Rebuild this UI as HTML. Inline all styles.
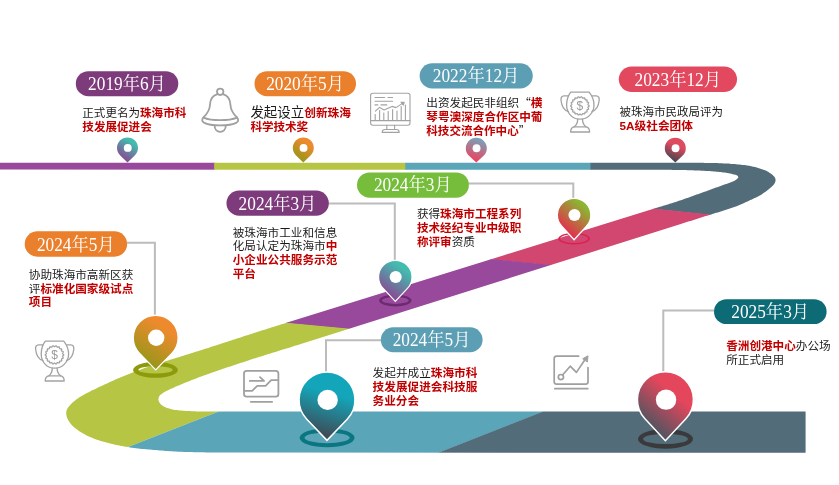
<!DOCTYPE html>
<html lang="zh-CN"><head><meta charset="utf-8"><title>发展历程</title>
<style>
html,body{margin:0;padding:0;background:#fff;}
body{width:839px;height:485px;overflow:hidden;}
svg{display:block;will-change:transform;}
.pl{font-family:"Liberation Serif","Noto Serif CJK SC",serif;font-size:18.3px;fill:#fff;}
.tx{font-family:"Liberation Sans","Noto Sans CJK SC",sans-serif;font-size:11.6px;fill:#1a1a1a;}
.rb{font-weight:bold;fill:#c00000;}
.cj{font-family:"Noto Sans CJK SC",sans-serif;}
.dl{font-family:"Liberation Sans",sans-serif;font-size:12px;fill:#9a9a9a;text-anchor:middle;}
</style></head><body>
<svg width="839" height="485" viewBox="0 0 839 485">
<defs><linearGradient id="gTealPurple" x1="0.8" y1="0.08" x2="0.32" y2="0.95"><stop offset="0.15" stop-color="#43bbae"/><stop offset="0.95" stop-color="#8a4793"/></linearGradient><linearGradient id="gOrangeOlive" x1="0.8" y1="0.08" x2="0.32" y2="0.95"><stop offset="0.18" stop-color="#ee8a2d"/><stop offset="0.95" stop-color="#98961a"/></linearGradient><linearGradient id="gBlueRed" x1="0.66" y1="0.02" x2="0.4" y2="0.95"><stop offset="0.05" stop-color="#7ba0b9"/><stop offset="0.95" stop-color="#eb4560"/></linearGradient><linearGradient id="gRedDark" x1="0.72" y1="0.05" x2="0.4" y2="0.98"><stop offset="0.3" stop-color="#de4a60"/><stop offset="0.95" stop-color="#46464f"/></linearGradient><linearGradient id="gGreenRed" x1="0.85" y1="0.1" x2="0.3" y2="0.9"><stop offset="0.12" stop-color="#8db432"/><stop offset="0.95" stop-color="#e32f4c"/></linearGradient><linearGradient id="gTealDark" x1="0.64" y1="0.05" x2="0.42" y2="0.97"><stop offset="0.28" stop-color="#13a6ba"/><stop offset="0.95" stop-color="#3d4c57"/></linearGradient><linearGradient id="gRedDark2" x1="0.88" y1="0.1" x2="0.3" y2="0.95"><stop offset="0.3" stop-color="#e4465c"/><stop offset="0.95" stop-color="#4a5560"/></linearGradient><clipPath id="roadclip"><path d="M-5.0,162.8 L700.0,162.8 L701.6,162.8 L703.2,162.8 L704.8,162.9 L706.3,162.9 L707.9,162.9 L709.5,162.9 L711.1,162.9 L712.7,163.0 L714.2,163.0 L715.8,163.1 L717.4,163.1 L719.0,163.2 L720.6,163.2 L722.2,163.3 L723.7,163.4 L725.3,163.5 L726.9,163.5 L728.5,163.6 L730.1,163.8 L731.6,163.9 L733.2,164.0 L734.8,164.1 L736.4,164.3 L738.0,164.4 L739.5,164.6 L741.1,164.7 L742.7,164.9 L744.3,165.1 L745.8,165.3 L747.4,165.6 L749.0,165.8 L750.5,166.1 L752.1,166.4 L753.6,166.8 L755.1,167.1 L756.7,167.5 L758.2,168.0 L759.7,168.4 L761.2,168.9 L762.7,169.4 L764.2,170.0 L765.7,170.6 L767.1,171.3 L768.5,172.1 L769.8,172.9 L771.1,173.8 L772.4,174.8 L773.6,175.9 L774.6,177.1 L775.3,178.5 L775.6,180.1 L775.4,181.6 L774.8,183.1 L773.9,184.4 L772.9,185.6 L771.7,186.8 L770.5,187.8 L769.3,188.8 L768.1,189.8 L766.8,190.8 L765.6,191.7 L764.3,192.6 L762.9,193.5 L761.6,194.4 L760.3,195.2 L758.9,196.0 L757.5,196.7 L756.1,197.4 L754.6,198.1 L753.2,198.8 L751.8,199.5 L750.3,200.1 L748.9,200.8 L747.5,201.5 L746.0,202.1 L744.6,202.8 L743.1,203.4 L741.7,204.1 L740.2,204.7 L738.8,205.3 L737.3,205.9 L735.8,206.5 L734.3,207.0 L732.8,207.5 L731.3,208.0 L729.8,208.5 L728.3,209.0 L726.8,209.5 L725.3,210.0 L723.8,210.5 L722.3,210.9 L720.8,211.4 L719.3,211.9 L717.8,212.4 L716.3,212.8 L714.7,213.3 L713.2,213.8 L711.7,214.3 L710.2,214.7 L708.7,215.2 L707.2,215.7 L705.7,216.1 L704.2,216.6 L702.7,217.1 L701.1,217.5 L699.6,218.0 L698.1,218.5 L696.6,219.0 L695.1,219.4 L693.6,219.9 L692.1,220.4 L690.6,220.9 L689.1,221.3 L687.5,221.8 L686.0,222.3 L684.5,222.8 L683.0,223.2 L681.5,223.7 L680.0,224.2 L300.0,344.3 L298.6,344.7 L297.1,345.2 L295.7,345.6 L294.2,346.1 L292.8,346.5 L291.4,347.0 L289.9,347.4 L288.5,347.9 L287.0,348.3 L285.6,348.7 L284.1,349.2 L282.7,349.6 L281.3,350.1 L279.8,350.5 L278.4,351.0 L276.9,351.4 L275.5,351.9 L274.1,352.3 L272.6,352.8 L271.2,353.2 L269.7,353.7 L268.3,354.1 L266.9,354.6 L265.4,355.0 L264.0,355.5 L262.5,355.9 L261.1,356.4 L259.7,356.8 L258.2,357.3 L256.8,357.7 L255.4,358.2 L253.9,358.6 L252.5,359.1 L251.0,359.6 L249.6,360.0 L248.2,360.5 L246.7,361.0 L245.3,361.4 L243.9,361.9 L242.4,362.4 L241.0,362.8 L239.6,363.3 L238.1,363.8 L236.7,364.3 L235.3,364.7 L233.8,365.2 L232.4,365.7 L231.0,366.2 L229.6,366.7 L228.1,367.1 L226.7,367.6 L225.3,368.1 L223.8,368.6 L222.4,369.1 L221.0,369.6 L219.6,370.1 L218.1,370.6 L216.7,371.0 L215.3,371.5 L213.9,372.0 L212.4,372.5 L211.0,373.0 L209.6,373.5 L208.2,374.0 L206.7,374.5 L205.3,375.0 L203.9,375.6 L202.5,376.1 L201.1,376.6 L199.7,377.1 L198.2,377.6 L196.8,378.2 L195.4,378.7 L194.0,379.2 L192.6,379.8 L191.2,380.3 L189.8,380.9 L188.4,381.4 L187.0,382.0 L185.6,382.6 L184.2,383.1 L182.8,383.7 L181.4,384.3 L180.0,384.9 L178.6,385.4 L177.2,386.0 L175.9,386.6 L174.5,387.2 L173.1,387.9 L171.7,388.5 L170.4,389.1 L169.0,389.8 L167.6,390.4 L166.3,391.1 L165.0,391.8 L163.6,392.5 L162.4,393.4 L161.1,394.3 L160.0,395.3 L159.1,396.5 L158.6,397.9 L158.4,399.4 L158.7,400.9 L159.3,402.3 L160.2,403.6 L161.2,404.7 L162.4,405.6 L163.7,406.4 L165.0,407.1 L166.4,407.7 L167.9,408.2 L169.3,408.6 L170.8,409.0 L172.2,409.4 L173.7,409.7 L175.2,409.9 L176.7,410.1 L178.2,410.3 L179.7,410.5 L181.2,410.6 L182.7,410.7 L184.2,410.8 L185.7,410.9 L187.2,411.0 L188.7,411.1 L190.2,411.1 L191.7,411.2 L193.2,411.3 L194.8,411.3 L196.3,411.4 L197.8,411.4 L199.3,411.4 L200.8,411.5 L202.3,411.5 L203.8,411.5 L205.3,411.5 L206.8,411.6 L208.3,411.6 L209.8,411.6 L211.3,411.6 L212.8,411.6 L214.4,411.6 L215.9,411.6 L217.4,411.6 L218.9,411.6 L220.4,411.6 L221.9,411.6 L223.4,411.6 L224.9,411.6 L226.4,411.6 L227.9,411.6 L229.4,411.6 L231.0,411.6 L232.5,411.6 L234.0,411.6 L235.5,411.6 L237.0,411.6 L238.5,411.6 L240.0,411.6 L805.6,411.6 L805.6,452.7 L250.0,452.6 L248.0,452.6 L246.0,452.6 L244.0,452.6 L242.0,452.6 L240.0,452.6 L238.0,452.6 L236.0,452.6 L234.0,452.6 L232.0,452.6 L230.0,452.5 L228.0,452.5 L226.0,452.5 L224.0,452.5 L222.0,452.5 L220.0,452.5 L218.0,452.5 L216.0,452.5 L213.9,452.5 L211.9,452.4 L209.9,452.4 L207.9,452.4 L205.9,452.4 L203.9,452.3 L201.9,452.3 L199.9,452.3 L197.9,452.3 L195.9,452.2 L193.9,452.2 L191.9,452.1 L189.9,452.1 L187.9,452.0 L185.9,452.0 L183.9,451.9 L181.9,451.8 L179.9,451.7 L177.9,451.7 L175.9,451.6 L173.9,451.4 L171.9,451.3 L169.9,451.2 L167.9,451.0 L165.9,450.9 L163.9,450.7 L161.9,450.6 L159.9,450.4 L157.9,450.3 L155.9,450.1 L153.9,450.0 L151.9,449.8 L149.9,449.6 L147.9,449.5 L146.0,449.3 L144.0,449.1 L142.0,448.9 L140.0,448.7 L138.0,448.4 L136.0,448.2 L134.0,447.9 L132.0,447.7 L130.0,447.4 L128.1,447.1 L126.1,446.8 L124.1,446.4 L122.1,446.1 L120.2,445.7 L118.2,445.3 L116.2,444.9 L114.3,444.5 L112.3,444.0 L110.4,443.6 L108.4,443.1 L106.5,442.6 L104.6,442.0 L102.7,441.5 L100.7,440.9 L98.8,440.3 L96.9,439.7 L95.0,439.0 L93.1,438.3 L91.3,437.6 L89.4,436.8 L87.6,436.0 L85.8,435.1 L84.1,434.1 L82.3,433.1 L80.6,432.1 L78.9,431.0 L77.3,429.8 L75.7,428.6 L74.1,427.3 L72.7,425.9 L71.3,424.5 L70.1,422.9 L68.9,421.3 L67.9,419.5 L67.1,417.7 L66.5,415.8 L66.2,413.8 L66.3,411.8 L66.8,409.8 L67.7,408.0 L68.9,406.4 L70.2,404.9 L71.6,403.5 L73.1,402.1 L74.6,400.9 L76.2,399.6 L77.8,398.5 L79.5,397.3 L81.2,396.3 L82.9,395.2 L84.7,394.3 L86.4,393.3 L88.2,392.4 L90.0,391.5 L91.8,390.6 L93.6,389.7 L95.4,388.9 L97.2,388.0 L99.0,387.1 L100.8,386.3 L102.7,385.4 L104.5,384.6 L106.3,383.8 L108.1,382.9 L109.9,382.1 L111.7,381.3 L113.6,380.4 L115.4,379.6 L117.2,378.8 L119.1,378.0 L120.9,377.2 L122.8,376.5 L124.6,375.7 L126.5,374.9 L128.3,374.2 L130.2,373.4 L132.1,372.7 L133.9,372.0 L135.8,371.3 L137.7,370.6 L139.5,369.9 L141.4,369.2 L143.3,368.5 L145.2,367.8 L147.1,367.2 L149.0,366.5 L150.9,365.9 L152.8,365.3 L154.7,364.6 L156.6,364.0 L158.5,363.4 L160.4,362.8 L162.3,362.2 L164.2,361.6 L166.2,361.0 L168.1,360.4 L170.0,359.8 L171.9,359.3 L173.8,358.7 L175.7,358.1 L177.6,357.5 L179.5,356.9 L181.5,356.3 L183.4,355.7 L185.3,355.1 L187.2,354.5 L189.1,353.9 L191.0,353.3 L192.9,352.7 L194.8,352.1 L196.8,351.5 L198.7,350.9 L200.6,350.3 L202.5,349.7 L204.4,349.1 L206.3,348.5 L208.2,347.9 L210.1,347.3 L212.0,346.6 L213.9,346.0 L215.8,345.4 L217.7,344.8 L219.6,344.2 L221.5,343.6 L223.4,342.9 L225.4,342.3 L227.3,341.7 L229.2,341.1 L231.1,340.5 L233.0,339.8 L234.9,339.2 L236.8,338.6 L238.7,338.0 L240.6,337.4 L242.5,336.7 L244.4,336.1 L246.3,335.5 L248.2,334.9 L250.1,334.3 L252.0,333.7 L253.9,333.1 L255.8,332.4 L257.8,331.8 L259.7,331.2 L261.6,330.6 L263.5,330.0 L265.4,329.4 L267.3,328.8 L269.2,328.2 L271.1,327.6 L273.0,327.0 L274.9,326.4 L276.8,325.8 L278.8,325.2 L280.7,324.6 L282.6,324.0 L284.5,323.4 L286.4,322.8 L660.0,206.8 L661.3,206.4 L662.6,206.0 L664.0,205.6 L665.3,205.2 L666.6,204.8 L667.9,204.4 L669.2,204.0 L670.5,203.6 L671.8,203.2 L673.2,202.7 L674.5,202.3 L675.8,201.9 L677.1,201.5 L678.4,201.0 L679.7,200.6 L681.0,200.2 L682.3,199.7 L683.6,199.3 L684.9,198.8 L686.2,198.3 L687.5,197.9 L688.8,197.4 L690.1,197.0 L691.4,196.5 L692.7,196.0 L694.0,195.5 L695.3,195.1 L696.6,194.6 L697.9,194.2 L699.2,193.7 L700.5,193.2 L701.8,192.8 L703.1,192.3 L704.4,191.8 L705.7,191.4 L706.9,190.9 L708.2,190.4 L709.5,190.0 L710.8,189.5 L712.1,189.0 L713.4,188.6 L714.7,188.1 L716.0,187.6 L717.3,187.2 L718.6,186.7 L719.9,186.2 L721.2,185.7 L722.5,185.3 L723.8,184.8 L725.1,184.3 L726.4,183.9 L727.7,183.4 L729.0,182.9 L730.3,182.4 L731.6,182.0 L732.8,181.4 L734.1,180.9 L735.3,180.3 L736.4,179.6 L737.5,178.6 L738.3,177.4 L737.9,176.1 L736.7,175.3 L735.4,174.8 L734.1,174.5 L732.7,174.2 L731.4,173.8 L730.1,173.5 L728.7,173.2 L727.4,173.0 L726.0,172.7 L724.6,172.5 L723.3,172.4 L721.9,172.2 L720.5,172.1 L719.2,171.9 L717.8,171.8 L716.4,171.7 L715.0,171.6 L713.7,171.4 L712.3,171.3 L710.9,171.2 L709.5,171.1 L708.2,171.1 L706.8,171.0 L705.4,170.9 L704.1,170.8 L702.7,170.7 L701.3,170.7 L699.9,170.6 L698.5,170.5 L697.2,170.5 L695.8,170.4 L694.4,170.4 L693.0,170.3 L691.7,170.3 L690.3,170.2 L688.9,170.2 L687.5,170.2 L686.2,170.1 L684.8,170.1 L683.4,170.1 L682.0,170.0 L680.7,170.0 L679.3,170.0 L677.9,170.0 L676.5,169.9 L675.1,169.9 L673.8,169.9 L672.4,169.9 L671.0,169.8 L669.6,169.8 L668.3,169.8 L666.9,169.8 L665.5,169.8 L664.1,169.8 L662.8,169.7 L661.4,169.7 L660.0,169.7 L-5.0,169.6Z"/></clipPath></defs>
<g clip-path="url(#roadclip)"><polygon points="-5.0,150.0 215.0,150.0 215.0,180.0 -5.0,180.0" fill="#98499b"/><polygon points="214.1,150.0 406.0,150.0 406.0,180.0 214.1,180.0" fill="#b7c544"/><polygon points="405.3,150.0 591.0,150.0 591.0,180.0 405.3,180.0" fill="#5ba5b9"/><polygon points="590.5,150.0 850.0,150.0 850.0,230.0 590.5,202.2" fill="#536c79"/><polygon points="590.5,201.7 850.0,229.5 850.0,293.5 440.0,254.7" fill="#d1476f"/><polygon points="440.0,254.2 850.0,293.0 850.0,376.3 230.0,318.0" fill="#98499b"/><polygon points="230.0,317.5 850.0,375.8 850.0,400.0 248.0,400.0 69.3,470.0 0.0,470.0 0.0,300.0" fill="#b7c544"/><polygon points="248.0,400.0 573.0,400.0 394.8,470.0 69.3,470.0" fill="#5ba5b9"/><polygon points="572.5,400.0 850.0,400.0 850.0,470.0 394.3,470.0" fill="#536c79"/></g>
<polyline points="468.0,183.6 573.3,183.6 573.3,200.0" fill="none" stroke="#bcbcbc" stroke-width="2"/>
<polyline points="328.0,203.6 394.8,203.6 394.8,263.0" fill="none" stroke="#bcbcbc" stroke-width="2"/>
<polyline points="127.0,242.8 154.9,242.8 154.9,318.0" fill="none" stroke="#bcbcbc" stroke-width="2"/>
<polyline points="381.0,340.2 326.0,340.2 326.0,374.0" fill="none" stroke="#bcbcbc" stroke-width="2"/>
<polyline points="714.0,310.4 663.3,310.4 663.3,374.0" fill="none" stroke="#bcbcbc" stroke-width="2"/>
<path d="M558.30,238.60 a15.80,5.90 0 1 0 31.60,0 a15.80,5.90 0 1 0 -31.60,0Z M560.10,238.60 a14.00,4.40 0 1 0 28.00,0 a14.00,4.40 0 1 0 -28.00,0Z" fill="#dc1f4e" fill-rule="evenodd"/>
<path d="M379.10,300.40 a16.20,6.00 0 1 0 32.40,0 a16.20,6.00 0 1 0 -32.40,0Z M382.00,300.40 a13.30,3.50 0 1 0 26.60,0 a13.30,3.50 0 1 0 -26.60,0Z" fill="#6c2a70" fill-rule="evenodd"/>
<path d="M133.10,369.90 a22.40,7.90 0 1 0 44.80,0 a22.40,7.90 0 1 0 -44.80,0Z M138.40,369.90 a17.10,3.60 0 1 0 34.20,0 a17.10,3.60 0 1 0 -34.20,0Z" fill="#8c9a0c" fill-rule="evenodd"/>
<path d="M299.60,437.80 a27.50,9.50 0 1 0 55.00,0 a27.50,9.50 0 1 0 -55.00,0Z M304.50,437.80 a22.60,5.40 0 1 0 45.20,0 a22.60,5.40 0 1 0 -45.20,0Z" fill="#0b7580" fill-rule="evenodd"/>
<path d="M638.00,438.90 a27.50,9.80 0 1 0 55.00,0 a27.50,9.80 0 1 0 -55.00,0Z M643.10,438.90 a22.40,5.20 0 1 0 44.80,0 a22.40,5.20 0 1 0 -44.80,0Z" fill="#3a3a3c" fill-rule="evenodd"/>
<path d="M127.50,162.40 L120.26,155.50 A10.50,10.50 0 1 1 134.74,155.50 Z" fill="url(#gTealPurple)"/><circle cx="127.75" cy="147.90" r="3.94" fill="#fff"/>
<path d="M303.30,162.40 L296.06,155.50 A10.50,10.50 0 1 1 310.54,155.50 Z" fill="url(#gOrangeOlive)"/><circle cx="303.55" cy="147.90" r="3.94" fill="#fff"/>
<path d="M476.30,162.40 L469.29,156.12 A10.50,10.50 0 1 1 483.31,156.12 Z" fill="url(#gBlueRed)"/><circle cx="476.55" cy="148.30" r="3.94" fill="#fff"/>
<path d="M675.30,162.60 L668.11,155.86 A10.50,10.50 0 1 1 682.49,155.86 Z" fill="url(#gRedDark)"/><circle cx="675.55" cy="148.20" r="3.94" fill="#fff"/>
<path d="M574.10,239.75 L561.78,226.27 A16.70,16.70 0 1 1 586.42,226.27 Z" fill="url(#gGreenRed)" stroke="#fff" stroke-width="1.2" stroke-linejoin="miter"/><circle cx="574.49" cy="215.00" r="6.04" fill="#fff"/>
<path d="M395.30,301.35 L383.15,288.45 A16.70,16.70 0 1 1 407.45,288.45 Z" fill="url(#gTealPurple)" stroke="#fff" stroke-width="1.2" stroke-linejoin="miter"/><circle cx="395.69" cy="277.00" r="6.04" fill="#fff"/>
<path d="M155.70,369.92 L139.60,353.34 A22.45,22.45 0 1 1 171.80,353.34 Z" fill="url(#gOrangeOlive)" stroke="#fff" stroke-width="1.3" stroke-linejoin="miter"/><circle cx="156.22" cy="337.70" r="8.18" fill="#fff"/>
<path d="M327.00,440.36 L306.79,419.21 A27.95,27.95 0 1 1 347.21,419.21 Z" fill="url(#gTealDark)" stroke="#fff" stroke-width="1.5" stroke-linejoin="miter"/><circle cx="327.65" cy="399.90" r="10.20" fill="#fff"/>
<path d="M665.40,440.66 L644.94,418.77 A28.00,28.00 0 1 1 685.86,418.77 Z" fill="url(#gRedDark2)" stroke="#fff" stroke-width="1.5" stroke-linejoin="miter"/><circle cx="666.05" cy="399.65" r="10.22" fill="#fff"/>
<rect x="75.8" y="71.2" width="102.5" height="25.0" rx="12.5" fill="#7d3b7c"/><text class="pl" x="88.1" y="90.2" textLength="77.8" lengthAdjust="spacingAndGlyphs">2019年6月</text>
<rect x="254.5" y="71.2" width="101.5" height="25.0" rx="12.5" fill="#ea7f2c"/><text class="pl" x="266.2" y="90.2" textLength="77.8" lengthAdjust="spacingAndGlyphs">2020年5月</text>
<rect x="419.6" y="63.3" width="113.2" height="25.1" rx="12.6" fill="#5c9fb4"/><text class="pl" x="432.8" y="82.4" textLength="86.6" lengthAdjust="spacingAndGlyphs">2022年12月</text>
<rect x="618.8" y="66.5" width="118.2" height="25.5" rx="12.8" fill="#e2495f"/><text class="pl" x="634.5" y="85.9" textLength="86.6" lengthAdjust="spacingAndGlyphs">2023年12月</text>
<rect x="357.0" y="172.4" width="111.9" height="25.3" rx="12.6" fill="#76bd3c"/><text class="pl" x="373.9" y="190.8" textLength="77.8" lengthAdjust="spacingAndGlyphs">2024年3月</text>
<rect x="226.5" y="190.6" width="102.3" height="25.2" rx="12.6" fill="#7d3b7c"/><text class="pl" x="238.6" y="209.6" textLength="77.8" lengthAdjust="spacingAndGlyphs">2024年3月</text>
<rect x="24.7" y="231.3" width="102.4" height="25.4" rx="12.7" fill="#ea7f2c"/><text class="pl" x="36.9" y="250.7" textLength="77.8" lengthAdjust="spacingAndGlyphs">2024年5月</text>
<rect x="380.8" y="327.3" width="101.8" height="24.9" rx="12.4" fill="#5c9fb4"/><text class="pl" x="392.7" y="346.3" textLength="77.8" lengthAdjust="spacingAndGlyphs">2024年5月</text>
<rect x="714.0" y="299.2" width="112.6" height="24.9" rx="12.5" fill="#0d6b76"/><text class="pl" x="731.3" y="317.9" textLength="77.8" lengthAdjust="spacingAndGlyphs">2025年3月</text>
<text class="tx" x="82.3" y="116.6" textLength="104.0" lengthAdjust="spacingAndGlyphs">正式更名为<tspan class="rb">珠海市科</tspan></text><text class="tx" x="82.3" y="130.6" textLength="69.5" lengthAdjust="spacingAndGlyphs"><tspan class="rb">技发展促进会</tspan></text>
<text class="tx" x="250.4" y="116.8" textLength="100.5" lengthAdjust="spacingAndGlyphs"><tspan style="font-size:13.4px">发起设立</tspan><tspan class="rb">创新珠海</tspan></text><text class="tx" x="250.4" y="131.2" textLength="57.8" lengthAdjust="spacingAndGlyphs"><tspan class="rb">科学技术奖</tspan></text>
<text class="tx" x="426.3" y="107.4" textLength="116.2" lengthAdjust="spacingAndGlyphs">出资发起民非组织<tspan class="cj">“</tspan><tspan class="rb">横</tspan></text><text class="tx" x="426.3" y="121.4" textLength="116.2" lengthAdjust="spacingAndGlyphs"><tspan class="rb">琴粤澳深度合作区中葡</tspan></text><text class="tx" x="426.3" y="134.9" textLength="104.0" lengthAdjust="spacingAndGlyphs"><tspan class="rb">科技交流合作中心</tspan><tspan class="cj">”</tspan></text>
<text class="tx" x="619.5" y="116.2" textLength="103.5" lengthAdjust="spacingAndGlyphs">被珠海市民政局评为</text><text class="tx" x="619.5" y="130.4" textLength="73.5" lengthAdjust="spacingAndGlyphs"><tspan class="rb">5A级社会团体</tspan></text>
<text class="tx" x="416.9" y="218.2" textLength="104.4" lengthAdjust="spacingAndGlyphs">获得<tspan class="rb">珠海市工程系列</tspan></text><text class="tx" x="416.9" y="232.3" textLength="104.4" lengthAdjust="spacingAndGlyphs"><tspan class="rb">技术经纪专业中级职</tspan></text><text class="tx" x="416.9" y="246.4" textLength="58.0" lengthAdjust="spacingAndGlyphs"><tspan class="rb">称评审</tspan>资质</text>
<text class="tx" x="232.7" y="236.9" textLength="104.6" lengthAdjust="spacingAndGlyphs">被珠海市工业和信息</text><text class="tx" x="232.7" y="250.2" textLength="104.6" lengthAdjust="spacingAndGlyphs">化局认定为珠海市<tspan class="rb">中</tspan></text><text class="tx" x="232.7" y="263.9" textLength="104.6" lengthAdjust="spacingAndGlyphs"><tspan class="rb">小企业公共服务示范</tspan></text><text class="tx" x="232.7" y="277.5" textLength="23.2" lengthAdjust="spacingAndGlyphs"><tspan class="rb">平台</tspan></text>
<text class="tx" x="28.8" y="278.9" textLength="104.5" lengthAdjust="spacingAndGlyphs">协助珠海市高新区获</text><text class="tx" x="28.8" y="292.6" textLength="104.5" lengthAdjust="spacingAndGlyphs">评<tspan class="rb">标准化国家级试点</tspan></text><text class="tx" x="28.8" y="306.2" textLength="23.2" lengthAdjust="spacingAndGlyphs"><tspan class="rb">项目</tspan></text>
<text class="tx" x="372.6" y="377.0" textLength="104.8" lengthAdjust="spacingAndGlyphs">发起并成立<tspan class="rb">珠海市科</tspan></text><text class="tx" x="372.6" y="391.2" textLength="104.8" lengthAdjust="spacingAndGlyphs"><tspan class="rb">技发展促进会科技服</tspan></text><text class="tx" x="372.6" y="405.2" textLength="46.5" lengthAdjust="spacingAndGlyphs"><tspan class="rb">务业分会</tspan></text>
<text class="tx" x="726.2" y="350.0" textLength="104.5" lengthAdjust="spacingAndGlyphs"><tspan class="rb">香洲创港中心</tspan>办公场</text><text class="tx" x="726.2" y="363.6" textLength="58.0" lengthAdjust="spacingAndGlyphs">所正式启用</text>
<g transform="translate(35.0,340.6)" fill="none" stroke="#a2a2a2" stroke-width="1.3" stroke-linecap="round" stroke-linejoin="round"><path d="M10.3,0.6 H28.8 C31.8,4.5 33.6,8.5 33.6,13.4 C33.6,21.4 27.2,27.6 19.6,27.6 C12,27.6 6.2,21.4 6.2,13.4 C6.2,8.5 7.4,4.5 10.3,0.6Z"/><path d="M7.6,4.2 H3.6 C1.2,4.2 0.4,6.2 0.6,8.6 C1.2,14 3.2,18.6 7.8,19.8"/><path d="M31.8,4.2 H35.8 C38.2,4.2 39,6.2 38.8,8.6 C38.2,14 36.2,18.6 31.6,19.8"/><path d="M17.3,27.3 C17.3,31 16,33.6 13.8,35.2 M22.1,27.3 C22.1,31 23.4,33.6 25.6,35.2"/><path d="M10.2,40.4 C10.2,37 12,35.2 14.6,35.2 H24.8 C27.4,35.2 29.2,37 29.2,40.4 Z"/><path d="M28.75,14.30 L28.61,14.66 L28.26,14.99 L27.85,15.29 L27.58,15.58 L27.53,15.90 L27.72,16.27 L28.00,16.70 L28.20,17.13 L28.18,17.50 L27.90,17.78 L27.44,17.96 L26.96,18.10 L26.62,18.29 L26.50,18.59 L26.56,19.02 L26.68,19.51 L26.70,19.98 L26.53,20.30 L26.15,20.45 L25.65,20.45 L25.16,20.43 L24.80,20.50 L24.60,20.76 L24.51,21.20 L24.45,21.71 L24.30,22.14 L24.01,22.36 L23.60,22.34 L23.12,22.16 L22.68,21.98 L22.32,21.95 L22.05,22.15 L21.83,22.55 L21.59,23.00 L21.30,23.33 L20.94,23.41 L20.56,23.23 L20.18,22.89 L19.83,22.58 L19.50,22.45 L19.17,22.58 L18.82,22.89 L18.44,23.23 L18.06,23.41 L17.70,23.33 L17.41,23.00 L17.17,22.55 L16.95,22.15 L16.68,21.95 L16.32,21.98 L15.88,22.16 L15.40,22.34 L14.99,22.36 L14.70,22.14 L14.55,21.71 L14.49,21.20 L14.40,20.76 L14.20,20.50 L13.84,20.43 L13.35,20.45 L12.85,20.45 L12.47,20.30 L12.30,19.98 L12.32,19.51 L12.44,19.02 L12.50,18.59 L12.38,18.29 L12.04,18.10 L11.56,17.96 L11.10,17.78 L10.82,17.50 L10.80,17.13 L11.00,16.70 L11.28,16.27 L11.47,15.90 L11.42,15.58 L11.15,15.29 L10.74,14.99 L10.39,14.66 L10.25,14.30 L10.39,13.94 L10.74,13.61 L11.15,13.31 L11.42,13.02 L11.47,12.70 L11.28,12.33 L11.00,11.90 L10.80,11.47 L10.82,11.10 L11.10,10.82 L11.56,10.64 L12.04,10.50 L12.38,10.31 L12.50,10.01 L12.44,9.58 L12.32,9.09 L12.30,8.62 L12.47,8.30 L12.85,8.15 L13.35,8.15 L13.84,8.17 L14.20,8.10 L14.40,7.84 L14.49,7.40 L14.55,6.89 L14.70,6.46 L14.99,6.24 L15.40,6.26 L15.88,6.44 L16.32,6.62 L16.68,6.65 L16.95,6.45 L17.17,6.05 L17.41,5.60 L17.70,5.27 L18.06,5.19 L18.44,5.37 L18.82,5.71 L19.17,6.02 L19.50,6.15 L19.83,6.02 L20.18,5.71 L20.56,5.37 L20.94,5.19 L21.30,5.27 L21.59,5.60 L21.83,6.05 L22.05,6.45 L22.32,6.65 L22.68,6.62 L23.12,6.44 L23.60,6.26 L24.01,6.24 L24.30,6.46 L24.45,6.89 L24.51,7.40 L24.60,7.84 L24.80,8.10 L25.16,8.17 L25.65,8.15 L26.15,8.15 L26.53,8.30 L26.70,8.62 L26.68,9.09 L26.56,9.58 L26.50,10.01 L26.62,10.31 L26.96,10.50 L27.44,10.64 L27.90,10.82 L28.18,11.10 L28.20,11.47 L28.00,11.90 L27.72,12.33 L27.53,12.70 L27.58,13.02 L27.85,13.31 L28.26,13.61 L28.61,13.94Z" stroke-width="1.25"/></g><text x="54.5" y="359.1" class="dl">$</text>
<g transform="translate(560.4,91.6)" fill="none" stroke="#a2a2a2" stroke-width="1.3" stroke-linecap="round" stroke-linejoin="round"><path d="M10.3,0.6 H28.8 C31.8,4.5 33.6,8.5 33.6,13.4 C33.6,21.4 27.2,27.6 19.6,27.6 C12,27.6 6.2,21.4 6.2,13.4 C6.2,8.5 7.4,4.5 10.3,0.6Z"/><path d="M7.6,4.2 H3.6 C1.2,4.2 0.4,6.2 0.6,8.6 C1.2,14 3.2,18.6 7.8,19.8"/><path d="M31.8,4.2 H35.8 C38.2,4.2 39,6.2 38.8,8.6 C38.2,14 36.2,18.6 31.6,19.8"/><path d="M17.3,27.3 C17.3,31 16,33.6 13.8,35.2 M22.1,27.3 C22.1,31 23.4,33.6 25.6,35.2"/><path d="M10.2,40.4 C10.2,37 12,35.2 14.6,35.2 H24.8 C27.4,35.2 29.2,37 29.2,40.4 Z"/><path d="M28.75,14.30 L28.61,14.66 L28.26,14.99 L27.85,15.29 L27.58,15.58 L27.53,15.90 L27.72,16.27 L28.00,16.70 L28.20,17.13 L28.18,17.50 L27.90,17.78 L27.44,17.96 L26.96,18.10 L26.62,18.29 L26.50,18.59 L26.56,19.02 L26.68,19.51 L26.70,19.98 L26.53,20.30 L26.15,20.45 L25.65,20.45 L25.16,20.43 L24.80,20.50 L24.60,20.76 L24.51,21.20 L24.45,21.71 L24.30,22.14 L24.01,22.36 L23.60,22.34 L23.12,22.16 L22.68,21.98 L22.32,21.95 L22.05,22.15 L21.83,22.55 L21.59,23.00 L21.30,23.33 L20.94,23.41 L20.56,23.23 L20.18,22.89 L19.83,22.58 L19.50,22.45 L19.17,22.58 L18.82,22.89 L18.44,23.23 L18.06,23.41 L17.70,23.33 L17.41,23.00 L17.17,22.55 L16.95,22.15 L16.68,21.95 L16.32,21.98 L15.88,22.16 L15.40,22.34 L14.99,22.36 L14.70,22.14 L14.55,21.71 L14.49,21.20 L14.40,20.76 L14.20,20.50 L13.84,20.43 L13.35,20.45 L12.85,20.45 L12.47,20.30 L12.30,19.98 L12.32,19.51 L12.44,19.02 L12.50,18.59 L12.38,18.29 L12.04,18.10 L11.56,17.96 L11.10,17.78 L10.82,17.50 L10.80,17.13 L11.00,16.70 L11.28,16.27 L11.47,15.90 L11.42,15.58 L11.15,15.29 L10.74,14.99 L10.39,14.66 L10.25,14.30 L10.39,13.94 L10.74,13.61 L11.15,13.31 L11.42,13.02 L11.47,12.70 L11.28,12.33 L11.00,11.90 L10.80,11.47 L10.82,11.10 L11.10,10.82 L11.56,10.64 L12.04,10.50 L12.38,10.31 L12.50,10.01 L12.44,9.58 L12.32,9.09 L12.30,8.62 L12.47,8.30 L12.85,8.15 L13.35,8.15 L13.84,8.17 L14.20,8.10 L14.40,7.84 L14.49,7.40 L14.55,6.89 L14.70,6.46 L14.99,6.24 L15.40,6.26 L15.88,6.44 L16.32,6.62 L16.68,6.65 L16.95,6.45 L17.17,6.05 L17.41,5.60 L17.70,5.27 L18.06,5.19 L18.44,5.37 L18.82,5.71 L19.17,6.02 L19.50,6.15 L19.83,6.02 L20.18,5.71 L20.56,5.37 L20.94,5.19 L21.30,5.27 L21.59,5.60 L21.83,6.05 L22.05,6.45 L22.32,6.65 L22.68,6.62 L23.12,6.44 L23.60,6.26 L24.01,6.24 L24.30,6.46 L24.45,6.89 L24.51,7.40 L24.60,7.84 L24.80,8.10 L25.16,8.17 L25.65,8.15 L26.15,8.15 L26.53,8.30 L26.70,8.62 L26.68,9.09 L26.56,9.58 L26.50,10.01 L26.62,10.31 L26.96,10.50 L27.44,10.64 L27.90,10.82 L28.18,11.10 L28.20,11.47 L28.00,11.90 L27.72,12.33 L27.53,12.70 L27.58,13.02 L27.85,13.31 L28.26,13.61 L28.61,13.94Z" stroke-width="1.25"/></g><text x="579.9" y="110.1" class="dl">$</text>
<g fill="none" stroke="#a0a0a0" stroke-width="1.8" stroke-linecap="round" stroke-linejoin="round"><circle cx="220.2" cy="91.8" r="3.2"/><path d="M217.6,94.2 C212.5,95.6 210.2,99.4 210,104.5 C209.8,110.5 207.5,113.5 203.6,117.2 C201.6,119.4 201.8,121.4 203.8,122.6 C208,124.8 214,125.4 220.2,125.4 C226.4,125.4 232.4,124.8 236.6,122.6 C238.6,121.4 238.8,119.4 236.8,117.2 C232.9,113.5 230.6,110.5 230.4,104.5 C230.2,99.4 227.9,95.6 222.8,94.2"/><path d="M203.4,117.6 C208,119.6 214,120.2 220.2,120.2 C226.4,120.2 232.4,119.6 237,117.6"/><path d="M214.6,125.6 C214.6,129.4 217,131.8 220.2,131.8 C223.4,131.8 225.8,129.4 225.8,125.6"/></g>
<g fill="none" stroke="#a2a2a2" stroke-width="1.1" stroke-linecap="round" stroke-linejoin="round"><rect x="370.6" y="93.2" width="39.4" height="32" rx="2.2"/><path d="M370.6,120.6 H410"/><path d="M386.8,125.4 V129.4 M394.6,125.4 V129.4"/><path d="M382.2,132.4 C382.2,130.4 383.2,129.5 385,129.5 H396.4 C398.2,129.5 399.2,130.4 399.2,132.4Z"/><path d="M375,97.5 H384.6 M388,97.5 H392.6 M375,101.2 H392.6 M375,104.9 H377.8 M381,104.9 H386.8"/><path d="M375.2,114.5 V120"/><path d="M379.6,110.5 V120"/><path d="M383.8,113.0 V120"/><path d="M388.2,111.5 V120"/><path d="M392.6,109.5 V120"/><path d="M397.0,111.0 V120"/><path d="M401.2,106.5 V120"/><path d="M405.4,105.0 V120"/><path d="M375.4,111.2 L379.6,107.4 L384,110 L392,106.4 L396,107.6 L403.6,102.6"/><path d="M401,102.2 L404.2,102.2 L403.4,105.2Z" fill="#a2a2a2"/></g>
<g fill="none" stroke="#a0a0a0" stroke-width="1.8" stroke-linecap="round" stroke-linejoin="round"><rect x="244" y="370.8" width="34.4" height="25.8" rx="2.6"/><path d="M250.8,401.8 H272.2"/><path d="M249.8,380.9 H264 M260,377.2 L264,380.9"/><path d="M244.4,390.9 H252.2 L257.3,385.8 H265.6 L271.2,380.2 H278"/></g>
<g fill="none" stroke="#a0a0a0" stroke-width="1.7" stroke-linecap="round" stroke-linejoin="round"><path d="M578.6,356.2 H556.6 Q554.2,356.2 554.2,358.6 V381.8 Q554.2,384.2 556.6,384.2 H585.6 Q588,384.2 588,381.8 V367.6"/><path d="M554.8,388.7 H587.8"/><circle cx="560.9" cy="377.1" r="2.6"/><path d="M562.6,375 L570.2,366.2 L576.4,372.4 L585.4,359"/><path d="M583,358.6 L588,355.8 L587.4,361.6Z" fill="#a0a0a0" stroke-width="1"/></g>
</svg>
</body></html>
